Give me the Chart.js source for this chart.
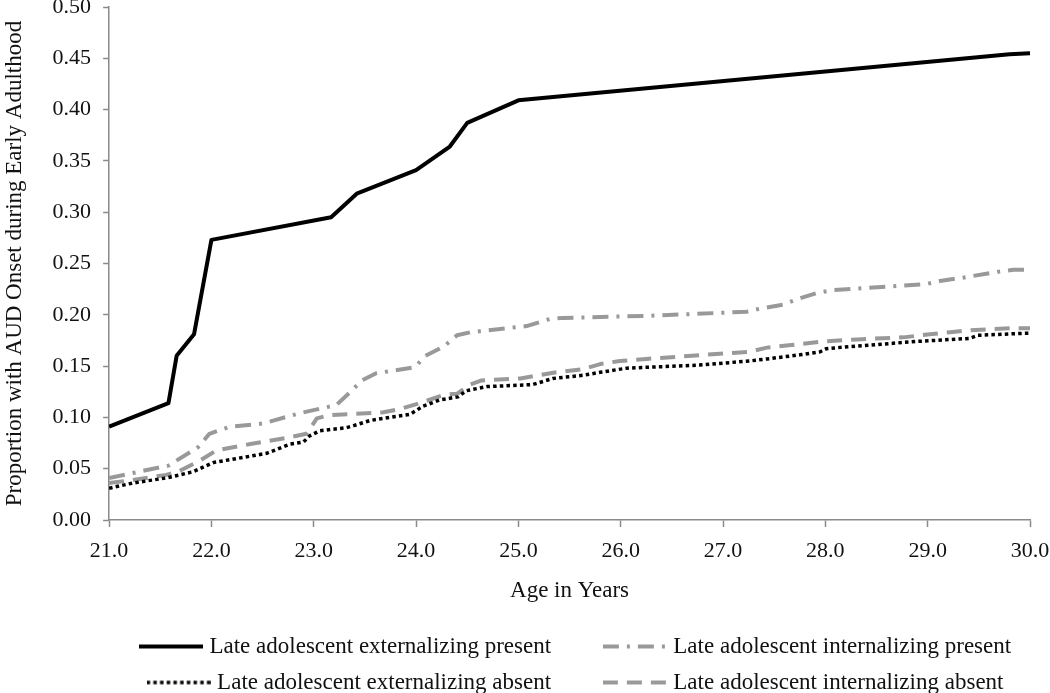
<!DOCTYPE html>
<html>
<head>
<meta charset="utf-8">
<script src="https://cdn.jsdelivr.net/npm/chart.js@4"></script>
<style>
  html, body { margin: 0; padding: 0; background: #fff; }
  #wrap { width: 1050px; height: 693px; position: relative; }
</style>
</head>
<body>
<div id="wrap"><canvas id="chart"></canvas></div>
<script>
// 読み取り値: 年齢(x) と割合(y)
const extPresentAge = [21.0, 21.58, 21.66, 21.83, 22.0, 23.17, 23.42, 24.0, 24.33, 24.5, 25.0, 29.8, 30.0];
const extPresentVal = [0.091, 0.114, 0.160, 0.181, 0.273, 0.295, 0.318, 0.341, 0.364, 0.387, 0.409, 0.454, 0.455];

const intPresentAge = [21.0, 21.58, 21.87, 21.98, 22.18, 22.5, 22.86, 23.22, 23.37, 23.47, 23.61, 23.99, 24.09, 24.27, 24.4, 24.53,
  25.08, 25.31, 25.44, 26.28, 27.23, 27.36, 27.59, 27.72, 27.91, 28.06, 28.99, 29.12, 29.33, 29.69, 29.84, 30.0];
const intPresentVal = [0.041, 0.053, 0.071, 0.084, 0.091, 0.094, 0.104, 0.112, 0.126, 0.136, 0.143, 0.149, 0.160, 0.169, 0.180, 0.183,
  0.189, 0.196, 0.197, 0.199, 0.203, 0.206, 0.210, 0.215, 0.221, 0.224, 0.230, 0.233, 0.236, 0.242, 0.244, 0.244];

const extAbsentAge = [21.0, 21.23, 21.56, 21.82, 22.02, 22.31, 22.54, 22.77, 22.9, 22.96, 23.06, 23.32, 23.39, 23.55, 23.94, 24.07,
  24.23, 24.41, 24.49, 24.69, 25.14, 25.34, 25.63, 25.8, 26.06, 26.77, 27.26, 27.43, 27.75, 27.95, 28.01, 28.24, 28.89, 29.41, 29.49, 29.95, 30.0];
const extAbsentVal = [0.031, 0.036, 0.041, 0.047, 0.056, 0.061, 0.065, 0.074, 0.076, 0.082, 0.087, 0.090, 0.092, 0.097, 0.103, 0.111,
  0.117, 0.120, 0.126, 0.130, 0.132, 0.138, 0.141, 0.144, 0.148, 0.151, 0.155, 0.157, 0.161, 0.164, 0.167, 0.169, 0.174, 0.177, 0.180, 0.182, 0.182];

const intAbsentAge = [21.0, 21.23, 21.56, 21.69, 21.89, 22.05, 22.38, 22.73, 22.93, 23.03, 23.14, 23.68, 23.84, 24.04, 24.27, 24.4,
  24.53, 24.64, 25.02, 25.37, 25.63, 25.8, 25.99, 26.25, 26.97, 27.26, 27.43, 27.62, 27.98, 28.31, 28.76, 29.02, 29.22, 29.41, 29.61, 29.84, 30.0];
const intAbsentVal = [0.036, 0.039, 0.044, 0.048, 0.058, 0.068, 0.074, 0.080, 0.084, 0.099, 0.102, 0.105, 0.108, 0.114, 0.122, 0.123,
  0.132, 0.136, 0.138, 0.144, 0.147, 0.152, 0.155, 0.157, 0.162, 0.164, 0.168, 0.170, 0.174, 0.176, 0.178, 0.181, 0.183, 0.185, 0.186, 0.187, 0.187];

const SERIES_LABELS = [
  'Late adolescent externalizing present',
  'Late adolescent internalizing present',
  'Late adolescent externalizing absent',
  'Late adolescent internalizing absent',
];

const X_MIN = 21, X_MAX = 30;
const Y_MIN = 0, Y_MAX = 0.5;

const FONT = "'Liberation Serif', 'Times New Roman', serif";
const GRAY = '#999999';
const AXIS = '#8a8a8a';
const TEXT = '#111111';

const pts = (xs, ys) => xs.map((x, i) => ({ x, y: ys[i] }));

// 凡例の線サンプル (破線パターン付き)
function legendSwatch(color, width, dash) {
  const c = document.createElement('canvas');
  c.width = 64;
  c.height = 8;
  const g = c.getContext('2d');
  g.strokeStyle = color;
  g.lineWidth = width;
  g.lineCap = 'butt';
  g.setLineDash(dash);
  g.beginPath();
  g.moveTo(0, 4);
  g.lineTo(64, 4);
  g.stroke();
  return c;
}

const STYLES = [
  { color: '#000000', width: 4, dash: [] },
  { color: GRAY, width: 4, dash: [16, 8, 3, 8] },
  { color: '#000000', width: 3.5, dash: [3.5, 3.2] },
  { color: GRAY, width: 4, dash: [15, 9] },
];

const SERIES_DATA = [
  pts(extPresentAge, extPresentVal),
  pts(intPresentAge, intPresentVal),
  pts(extAbsentAge, extAbsentVal),
  pts(intAbsentAge, intAbsentVal),
];

const datasets = SERIES_LABELS.map((label, i) => ({
  label,
  data: SERIES_DATA[i],
  borderColor: STYLES[i].color,
  backgroundColor: STYLES[i].color,
  borderWidth: STYLES[i].width,
  borderDash: STYLES[i].dash,
  borderCapStyle: 'butt',
  borderJoinStyle: 'round',
  pointRadius: 0,
  tension: 0,
  fill: false,
}));

const swatches = STYLES.map((s) => legendSwatch(s.color, s.width, s.dash));

// 凡例を少し右へ寄せる (元図は軸中央より右寄り)
const legendShift = {
  id: 'legendShift',
  afterLayout(chart) {
    chart.legend.left += 8;
    chart.legend.right += 8;
  },
};

new Chart(document.getElementById('chart').getContext('2d'), {
  type: 'line',
  data: { datasets },
  plugins: [legendShift],
  options: {
    responsive: true,
    maintainAspectRatio: false,
    animation: false,
    layout: { padding: { left: 1, right: 0, top: 0, bottom: -11 } },
    plugins: {
      tooltip: { enabled: false },
      legend: {
        position: 'bottom',
        fullSize: false,
        labels: {
          font: { family: FONT, size: 23 },
          color: TEXT,
          padding: 13,
          usePointStyle: true,
          pointStyleWidth: 54,
          generateLabels: (chart) => chart.data.datasets.map((ds, i) => ({
            // 左列は右側に余白を持たせて列を揃える
            text: i % 2 === 0 ? ds.label + '\u2003\u2002\u2009\u2009' : ds.label,
            pointStyle: swatches[i],
            fillStyle: ds.borderColor,
            strokeStyle: ds.borderColor,
            lineWidth: 0,
            fontColor: TEXT,
            hidden: false,
            datasetIndex: i,
          })),
        },
      },
    },
    scales: {
      x: {
        type: 'linear',
        min: X_MIN,
        max: X_MAX,
        afterFit: (s) => { s.paddingRight = 20; },
        border: { color: AXIS, width: 1.5 },
        grid: { display: true, drawOnChartArea: false, drawTicks: true, tickLength: 7, tickColor: AXIS, tickWidth: 1.5 },
        ticks: {
          stepSize: 1,
          padding: 11,
          color: TEXT,
          font: { family: FONT, size: 22 },
          maxRotation: 0,
          callback: (v) => Number(v).toFixed(1),
        },
        title: {
          display: true,
          text: 'Age in Years',
          color: TEXT,
          font: { family: FONT, size: 23 },
          padding: { top: 2, bottom: 17 },
        },
      },
      y: {
        min: Y_MIN,
        max: Y_MAX,
        afterFit: (s) => { s.paddingTop = 7; },
        border: { color: AXIS, width: 1.5 },
        grid: { display: true, drawOnChartArea: false, drawTicks: true, tickLength: 6, tickColor: AXIS, tickWidth: 1.5 },
        ticks: {
          stepSize: 0.05,
          padding: 12,
          color: TEXT,
          font: { family: FONT, size: 22, lineHeight: 1 },
          callback: (v) => Number(v).toFixed(2),
        },
        title: {
          display: true,
          text: 'Proportion with AUD Onset during Early Adulthood',
          color: TEXT,
          font: { family: FONT, size: 23 },
          padding: { top: 0, bottom: 12 },
        },
      },
    },
  },
});
</script>
</body>
</html>
